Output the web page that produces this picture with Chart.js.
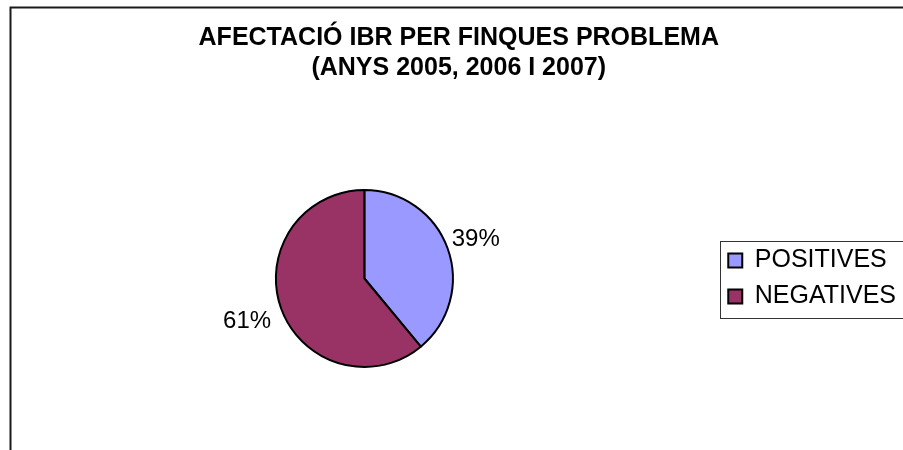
<!DOCTYPE html>
<html>
<head>
<meta charset="utf-8">
<script src="https://cdn.jsdelivr.net/npm/chart.js@4.4.1/dist/chart.umd.min.js"></script>
<style>
  html, body { margin: 0; padding: 0; background: #fff; }
  #wrap { width: 903px; height: 450px; }
</style>
</head>
<body>
<div id="wrap"><canvas id="myChart" width="903" height="450"></canvas></div>
<script>
const titleLines = ['AFECTACIÓ IBR PER FINQUES PROBLEMA', '(ANYS 2005, 2006 I 2007)'];
const categories = ['POSITIVES', 'NEGATIVES'];
const values = [39, 61];
const colors = ['#9999FF', '#993366'];

Chart.defaults.font.family = '"Liberation Sans", Arial, sans-serif';
Chart.defaults.color = '#000';

// outer frame (top and left edges only, rest runs off the picture)
const framePlugin = {
  id: 'frame',
  beforeDraw(chart) {
    const c = chart.ctx;
    c.save();
    c.strokeStyle = '#1a1a1a';
    c.lineWidth = 2;
    c.beginPath();
    c.moveTo(10.5, chart.height + 5);
    c.lineTo(10.5, 7.5);
    c.lineTo(chart.width + 5, 7.5);
    c.stroke();
    c.restore();
  }
};

// box around the legend
const legendBoxPlugin = {
  id: 'legendBox',
  afterDraw(chart) {
    const hb = chart.legend.legendHitBoxes;
    if (!hb || !hb.length) return;
    const last = hb[hb.length - 1];
    const x = Math.round(hb[0].left - 8) + 0.5;
    const y = Math.round(hb[0].top - 7) + 0.5;
    const b = Math.round(last.top + last.height + 9) + 0.5;
    const c = chart.ctx;
    c.save();
    c.strokeStyle = '#333';
    c.lineWidth = 1;
    c.strokeRect(x, y, chart.width + 10 - x, b - y);
    c.restore();
  }
};

// percentage labels outside each slice
const pctLabelPlugin = {
  id: 'pctLabels',
  afterDatasetsDraw(chart) {
    const c = chart.ctx;
    const meta = chart.getDatasetMeta(0);
    const total = values.reduce((a, b) => a + b, 0);
    c.save();
    c.font = '24px "Liberation Sans", Arial, sans-serif';
    c.fillStyle = '#000';
    c.textAlign = 'center';
    c.textBaseline = 'middle';
    meta.data.forEach((arc, i) => {
      const p = arc.getProps(['x', 'y', 'startAngle', 'endAngle', 'outerRadius'], true);
      const mid = (p.startAngle + p.endAngle) / 2;
      const r = p.outerRadius + 33;
      const txt = Math.round(values[i] / total * 100) + '%';
      c.fillText(txt, p.x + Math.cos(mid) * r - 3, p.y + Math.sin(mid) * r + 2);
    });
    c.restore();
  }
};

const ctx = document.getElementById('myChart').getContext('2d');
new Chart(ctx, {
  type: 'pie',
  data: {
    labels: categories,
    datasets: [{
      data: values,
      backgroundColor: colors,
      borderColor: '#000',
      borderWidth: 2
    }]
  },
  options: {
    responsive: false,
    animation: false,
    layout: { padding: { left: 11.5, right: -3, top: 0, bottom: 82 } },
    plugins: {
      title: {
        display: true,
        text: titleLines,
        color: '#000',
        font: { size: 25, weight: 'bold', lineHeight: 1.2 },
        padding: { top: 23, bottom: 106 }
      },
      legend: {
        position: 'right',
        fullSize: false,
        labels: {
          boxWidth: 14,
          boxHeight: 14,
          padding: 11,
          color: '#000',
          font: { size: 25 }
        }
      },
      tooltip: { enabled: false }
    }
  },
  plugins: [framePlugin, legendBoxPlugin, pctLabelPlugin]
});
</script>
</body>
</html>
